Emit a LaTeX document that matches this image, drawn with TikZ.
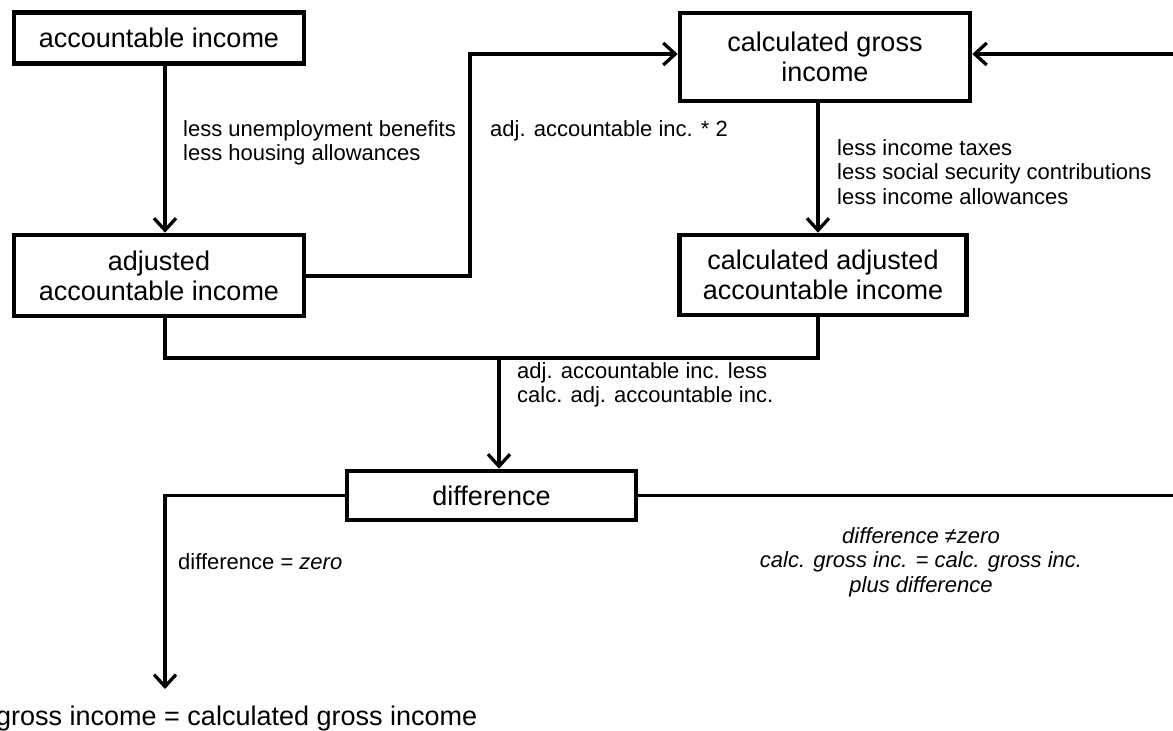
\documentclass[tikz,border=0pt]{standalone}
\usepackage{fontspec}
\setmainfont{Liberation Sans}
\usetikzlibrary{arrows.meta}
\begin{document}
\begin{tikzpicture}[x=1pt,y=-1pt,
  box/.style={draw, line width=4.6pt, align=center, inner sep=0pt,
    font=\fontsize{27}{30}\selectfont},
  lbl/.style={inner sep=0pt, align=left, font=\fontsize{22}{24.5}\selectfont},
  conn/.style={line width=3.3pt},
  arr/.style={conn, -{Straight Barb[length=12pt,width=22pt,line width=3.3pt]}}]
\useasboundingbox (0,0) rectangle (1173,731);

% boxes
\node[box, minimum width=290pt, minimum height=51pt] (acc) at (159,38) {accountable income};
\node[box, minimum width=290pt, minimum height=81pt] (adj) at (159,275.5) {adjusted\\accountable income};
\node[box, minimum width=290pt, minimum height=88pt] (cg) at (825,57) {calculated gross\\income};
\node[box, minimum width=287pt, minimum height=80pt] (cadj) at (823,275) {calculated adjusted\\accountable income};
\node[box, minimum width=289pt, minimum height=49pt] (diff) at (491.5,495.5) {difference};

% helper coordinates
\coordinate (xl) at (165,0);
\coordinate (xm) at (470,0);
\coordinate (xr) at (818,0);
\coordinate (xc) at (499,0);
\coordinate (ytop) at (0,54);
\coordinate (yadj) at (0,276);
\coordinate (yjoin) at (0,358);
\coordinate (rin) at (1180,54);
\coordinate (rout) at (1180,497);
\coordinate (endl) at (165,689);

% connectors
\draw[arr] (acc.south -| xl) -- (adj.north -| xl);
\draw[arr] (adj.east |- yadj) -- (xm |- yadj) -- (xm |- ytop) -- (cg.west |- ytop);
\draw[arr] (rin) -- (cg.east |- rin);
\draw[arr] (cg.south -| xr) -- (cadj.north -| xr);
\draw[conn] (adj.south -| xl) -- (xl |- yjoin) -- (xr |- yjoin) -- (cadj.south -| xr);
\draw[arr] (xc |- yjoin) -- (diff.north -| xc);
\draw[arr] (diff.west) -- (diff.west -| endl) -- (endl);
\draw[conn] (diff.east) -- (diff.east -| rout);

% labels
\node[lbl, anchor=west] (l1) at (183,143) {less unemployment benefits\\less housing allowances};
\node[lbl, anchor=west] (l2) at (490,131) {adj. accountable inc. * 2};
\node[lbl, anchor=west] (l3) at (837,172) {less income taxes\\less social security contributions\\less income allowances};
\node[lbl, anchor=west] (l4) at (517,385) {adj. accountable inc. less\\calc. adj. accountable inc.};
\node[lbl, anchor=west] (l5) at (178,562) {difference = \textit{zero}};
\node[lbl, align=center, font=\fontsize{22}{24.5}\selectfont\itshape] (l6) at (921,562) {difference ≠zero\\calc. gross inc. = calc. gross inc.\\plus difference};
\node[inner sep=0pt, anchor=base west, font=\fontsize{27}{30}\selectfont] (res) at (-4,725) {gross income = calculated gross income};
\end{tikzpicture}
\end{document}
